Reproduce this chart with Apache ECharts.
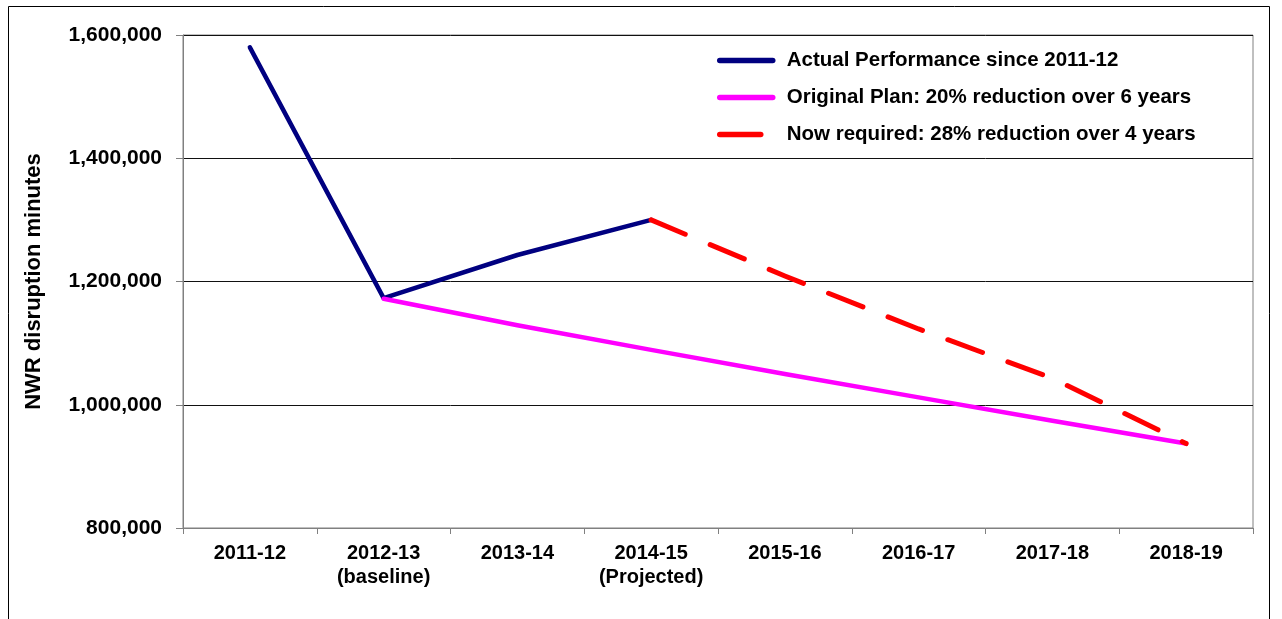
<!DOCTYPE html>
<html>
<head>
<meta charset="utf-8">
<title>NWR disruption minutes</title>
<script src="https://cdn.jsdelivr.net/npm/echarts@6/dist/echarts.min.js"></script>
<style>
html, body { margin: 0; padding: 0; background: #fff; }
#chart { width: 1282px; height: 619px; }
</style>
</head>
<body>
<div id="chart"></div>
<script>
// 年度分类
var years = ['2011-12', '2012-13\n(baseline)', '2013-14', '2014-15\n(Projected)', '2015-16', '2016-17', '2017-18', '2018-19'];
// 实际表现
var actualData = [1580000, 1173000, 1243000, 1300000, null, null, null, null];
// 原计划：6年减少20%
var planData = [null, 1172000, 1129000, 1089000, 1050000, 1012000, 974000, 937000];
// 现在要求：4年减少28%
var requiredData = [null, null, null, 1300000, 1209000, 1123000, 1043000, 937000];
var yTicks = [800000, 1000000, 1200000, 1400000, 1600000];

var fontFam = '"Liberation Sans", Arial, sans-serif';
var myChart = echarts.init(document.getElementById('chart'));

var option = {
    animation: false,
    backgroundColor: '#fff',
    textStyle: { fontFamily: fontFam },
    graphic: [{
        type: 'rect',
        shape: { x: 8.5, y: 6.5, width: 1261, height: 640 },
        style: { fill: 'none', stroke: '#000', lineWidth: 1 },
        silent: true
    }],
    grid: {
        left: 183,
        right: 29,
        top: 35,
        bottom: 91,
        show: true,
        borderColor: '#808080',
        borderWidth: 1
    },
    legend: {
        orient: 'vertical',
        left: 712,
        top: 45,
        itemWidth: 53,
        itemHeight: 14,
        itemGap: 16,
        itemStyle: { opacity: 0, borderWidth: 0 },
        lineStyle: { width: 5.5, cap: 'round', opacity: 1 },
        textStyle: {
            fontFamily: fontFam,
            fontSize: 20.5,
            fontWeight: 'bold',
            color: '#000',
            padding: [0, 0, 0, 9]
        },
        data: [
            { name: 'Actual Performance since 2011-12' },
            { name: 'Original Plan: 20% reduction over 6 years' },
            { name: 'Now required: 28% reduction over 4 years', lineStyle: { type: [41, 30] } }
        ],
        selectedMode: false
    },
    xAxis: {
        type: 'category',
        data: years,
        boundaryGap: true,
        axisLine: { lineStyle: { color: '#808080', width: 1 } },
        axisTick: { show: true, length: 6, alignWithLabel: false, lineStyle: { color: '#808080' } },
        axisLabel: {
            interval: 0,
            margin: 13,
            fontFamily: fontFam,
            fontSize: 20,
            fontWeight: 'bold',
            lineHeight: 24,
            color: '#000'
        },
        splitLine: { show: false }
    },
    yAxis: {
        type: 'value',
        min: yTicks[0],
        max: yTicks[yTicks.length - 1],
        interval: 200000,
        name: 'NWR disruption minutes',
        nameLocation: 'middle',
        nameRotate: 90,
        nameGap: 138,
        nameTextStyle: {
            fontFamily: fontFam,
            fontSize: 22,
            fontWeight: 'bold',
            color: '#000'
        },
        axisLine: { show: true, lineStyle: { color: '#808080', width: 1 } },
        axisTick: { show: true, length: 7, lineStyle: { color: '#808080' } },
        axisLabel: {
            margin: 21,
            fontFamily: fontFam,
            fontSize: 21,
            fontWeight: 'bold',
            color: '#000',
            formatter: function (v) {
                return String(v).replace(/\B(?=(\d{3})+(?!\d))/g, ',');
            }
        },
        splitLine: { show: true, lineStyle: { color: '#111', width: 1 } }
    },
    series: [{
        name: 'Actual Performance since 2011-12',
        type: 'line',
        data: actualData,
        symbol: 'none',
        connectNulls: false,
        lineStyle: { color: '#000080', width: 4.5, cap: 'round', join: 'round' },
        itemStyle: { color: '#000080' },
        z: 2
    }, {
        name: 'Original Plan: 20% reduction over 6 years',
        type: 'line',
        data: planData,
        symbol: 'none',
        lineStyle: { color: '#FF00FF', width: 4.5, cap: 'round', join: 'round' },
        itemStyle: { color: '#FF00FF' },
        z: 3
    }, {
        name: 'Now required: 28% reduction over 4 years',
        type: 'line',
        data: requiredData,
        symbol: 'none',
        lineStyle: { color: '#FF0000', width: 5, type: [37, 27], cap: 'round', join: 'round' },
        itemStyle: { color: '#FF0000' },
        z: 4
    }]
};
myChart.setOption(option, true);
</script>
</body>
</html>
